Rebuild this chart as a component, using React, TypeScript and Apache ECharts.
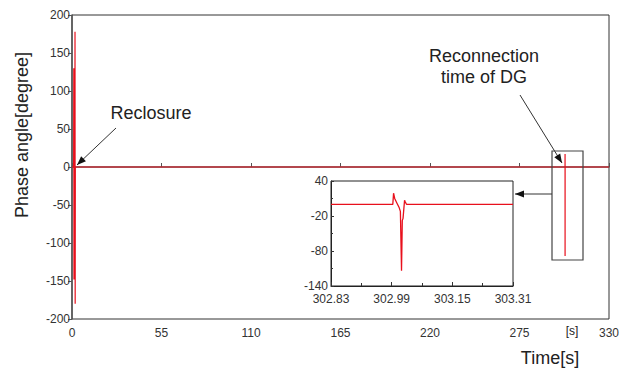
import React, { useEffect, useRef } from "react";
import * as echarts from "echarts";

// Main trace: time [s] and phase angle [degree]
const mainTime = [0, 1.0, 1.1, 1.2, 1.3, 1.75, 1.85, 1.95, 2.05, 302.98, 303.0, 303.01, 303.03, 330];
const mainAngle = [0, 0, 130, -148, 0, 0, 178, -180, 0, 0, 17, -117, 0, 0];

// Inset (zoom around reconnection time of DG)
const insetTime = [302.83, 302.993, 302.995, 302.998, 303.004, 303.01, 303.013, 303.016, 303.018, 303.02, 303.024, 303.026, 303.029, 303.31];
const insetAngle = [0, 0, 19, 10, 2, -6, -12, -114, -28, -24, 7, 4, 0, 0];

const mainXTicks = { min: 0, max: 330, interval: 55 };
const mainYTicks = { min: -200, max: 200, interval: 50 };
const insetXTicks = { min: 302.83, max: 303.31, interval: 0.16 };
const insetYTicks = { min: -140, max: 40, interval: 60 };

const FONT = "'Liberation Sans', Arial, sans-serif";
const RED = "#e8101c";

export default function App() {
  const ref = useRef<HTMLDivElement>(null);
  useEffect(() => {
    if (!ref.current) return;
    const chart = echarts.init(ref.current, undefined, { renderer: "svg" });
    const xOff = insetXTicks.min;
    const yOff = insetYTicks.min;
    const mainData = mainTime.map((t, i) => [t, mainAngle[i]]);
    const insetData = insetTime.map((t, i) => [t - xOff, insetAngle[i] - yOff]);
    const labelStyle = { color: "#333", fontSize: 12, fontFamily: FONT };
    const arrowHead = (tx: number, ty: number, fx: number, fy: number, len = 9, w = 3.5) => {
      const a = Math.atan2(ty - fy, tx - fx);
      const bx = tx - len * Math.cos(a);
      const by = ty - len * Math.sin(a);
      const px = -Math.sin(a) * w;
      const py = Math.cos(a) * w;
      return {
        type: "polygon",
        shape: { points: [[tx, ty], [bx + px, by + py], [bx - px, by - py]] },
        style: { fill: "#111" },
        z: 100,
      };
    };
    const arrow = (fx: number, fy: number, tx: number, ty: number) => [
      { type: "line", shape: { x1: fx, y1: fy, x2: tx, y2: ty }, style: { stroke: "#333", lineWidth: 1 }, z: 100 },
      arrowHead(tx, ty, fx, fy),
    ];
    const txt = (x: number, y: number, text: string, size: number, extra: any = {}) => ({
      type: "text",
      x,
      y,
      z: 100,
      ...extra,
      style: {
        text,
        fill: "#222",
        font: `${size}px ${FONT}`,
        textAlign: "center",
        textVerticalAlign: "middle",
        lineHeight: 21,
      },
    });
    chart.setOption({
      animation: false,
      backgroundColor: "#fff",
      grid: [
        { left: 72, right: 28, top: 15, bottom: 55, show: true, borderColor: "#333", borderWidth: 1 },
        { left: 331, top: 181, width: 182, height: 105, show: true, borderColor: "#222", borderWidth: 1, backgroundColor: "#fff", z: 5 },
      ],
      xAxis: [
        {
          type: "value",
          gridIndex: 0,
          min: mainXTicks.min,
          max: mainXTicks.max,
          interval: mainXTicks.interval,
          axisLine: { lineStyle: { color: "#555", width: 1.5 } },
          axisTick: { inside: true, length: 4, lineStyle: { color: "#555" } },
          axisLabel: { ...labelStyle, margin: 8 },
          splitLine: { show: false },
        },
        {
          type: "value",
          gridIndex: 1,
          min: 0,
          max: insetXTicks.max - insetXTicks.min,
          interval: insetXTicks.interval,
          axisLine: { lineStyle: { color: "#222", width: 1 } },
          axisTick: { inside: true, length: 4, lineStyle: { color: "#333" } },
          minorTick: { show: true, splitNumber: 2, length: 3, lineStyle: { color: "#333" } },
          axisLabel: { ...labelStyle, margin: 7, formatter: (v: number) => (v + xOff).toFixed(2) },
          splitLine: { show: false },
          z: 6,
        },
      ],
      yAxis: [
        {
          type: "value",
          gridIndex: 0,
          min: mainYTicks.min,
          max: mainYTicks.max,
          interval: mainYTicks.interval,
          axisLine: { lineStyle: { color: "#555", width: 1.5 } },
          axisTick: { inside: false, length: 4, lineStyle: { color: "#555" } },
          axisLabel: { ...labelStyle, margin: 2 },
          splitLine: { show: false },
        },
        {
          type: "value",
          gridIndex: 1,
          min: 0,
          max: insetYTicks.max - insetYTicks.min,
          interval: insetYTicks.interval,
          axisLine: { lineStyle: { color: "#222", width: 1 } },
          axisTick: { inside: true, length: 3, lineStyle: { color: "#333" } },
          minorTick: { show: true, splitNumber: 2, length: 2, lineStyle: { color: "#333" } },
          axisLabel: { ...labelStyle, margin: 3, formatter: (v: number) => String(Math.round(v + yOff)) },
          splitLine: { show: false },
          z: 6,
        },
      ],
      series: [
        {
          type: "line",
          xAxisIndex: 0,
          yAxisIndex: 0,
          data: mainData,
          showSymbol: false,
          lineStyle: { color: RED, width: 1.2 },
          z: 2,
        },
        {
          type: "line",
          xAxisIndex: 1,
          yAxisIndex: 1,
          data: insetData,
          showSymbol: false,
          lineStyle: { color: RED, width: 1.3 },
          z: 7,
        },
      ],
      graphic: [
        txt(151, 113, "Reclosure", 18),
        ...arrow(116, 128, 77, 165),
        txt(484, 66, "Reconnection\ntime of DG", 18),
        ...arrow(520, 95, 562, 163),
        {
          type: "rect",
          shape: { x: 552, y: 151, width: 31, height: 109 },
          style: { fill: "none", stroke: "#444", lineWidth: 1.2 },
          z: 100,
        },
        ...arrow(552, 194, 515, 194),
        txt(22, 135, "Phase angle[degree]", 18, { rotation: Math.PI / 2 }),
        txt(550, 358, "Time[s]", 18),
        txt(572, 331, "[s]", 12),
      ],
    });
    return () => chart.dispose();
  }, []);
  return (
    <div
      ref={ref}
      style={{ position: "fixed", left: 0, top: 0, width: 637, height: 374, background: "#fff" }}
    />
  );
}
